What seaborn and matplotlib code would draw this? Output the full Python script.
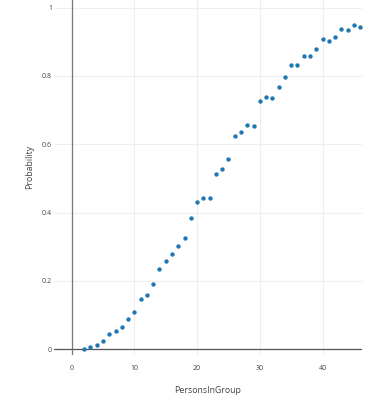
import numpy as np
import pandas as pd
import matplotlib
matplotlib.use('Agg')
import matplotlib.pyplot as plt
import seaborn as sns

sns.set_style('white')
plt.rcParams['font.family'] = ['Open Sans', 'DejaVu Sans']

# values
persons = list(range(2, 47))
probability = [0.0, 0.005, 0.013, 0.025, 0.043, 0.052, 0.064, 0.088, 0.108,
               0.148, 0.158, 0.190, 0.236, 0.258, 0.280, 0.302, 0.325, 0.385,
               0.432, 0.442, 0.443, 0.512, 0.528, 0.557, 0.624, 0.635, 0.656,
               0.653, 0.727, 0.738, 0.734, 0.768, 0.796, 0.833, 0.833, 0.859,
               0.857, 0.879, 0.907, 0.903, 0.914, 0.937, 0.934, 0.950, 0.944]
df = pd.DataFrame({'PersonsInGroup': persons, 'Probability': probability})

fig = plt.figure(figsize=(3.8, 4), dpi=100)
ax = fig.add_axes([54 / 380, 45 / 400, 307.5 / 380, 355 / 400])

sns.scatterplot(data=df, x='PersonsInGroup', y='Probability', ax=ax,
                color='#1f77b4', s=10, linewidth=0, zorder=3)

ax.set_xlim(-2.8, 46.2)
ax.set_ylim(-0.017, 1.022)
ax.set_xticks([0, 10, 20, 30, 40])
ax.set_yticks([0, 0.2, 0.4, 0.6, 0.8, 1])
ax.set_yticklabels(['0', '0.2', '0.4', '0.6', '0.8', '1'])

ax.grid(True, color='#eeeeee', linewidth=0.8, zorder=0)
ax.axhline(0, color='#555555', linewidth=0.9, zorder=2)
ax.axvline(0, color='#777777', linewidth=0.9, zorder=2)
for s in ax.spines.values():
    s.set_visible(False)

ax.tick_params(axis='both', length=0, labelsize=5, labelcolor='#444444')
ax.tick_params(axis='x', pad=7)
ax.tick_params(axis='y', pad=1.5)

ax.set_xlabel('PersonsInGroup', fontsize=6.3, color='#444444')
ax.set_ylabel('Probability', fontsize=6.3, color='#444444')
ax.xaxis.set_label_coords(0.5, -0.101)
ax.xaxis.label.set_va('center')
ax.yaxis.set_label_coords(-0.078, 0.53)
ax.yaxis.label.set_va('center')

fig.savefig('out.png', dpi=100)
